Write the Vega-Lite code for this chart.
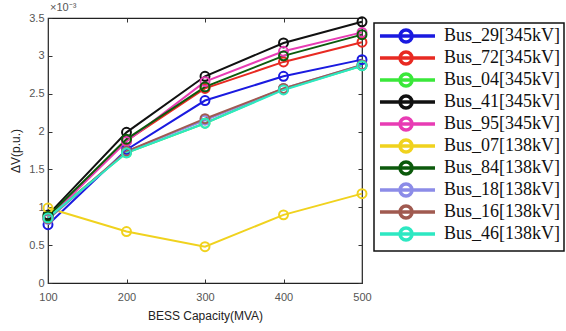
{
  "$schema": "https://vega.github.io/schema/vega-lite/v6.json",
  "autosize": "none",
  "padding": {"left": 48, "top": 18, "right": 204, "bottom": 48},
  "width": 314,
  "height": 265,
  "title": {"text": "×10⁻³", "anchor": "start", "fontSize": 11, "fontWeight": "normal", "color": "#555", "font": "Liberation Sans", "offset": -1, "frame": "group", "dx": 2},
  "config": {
    "view": {"stroke": "#222", "strokeWidth": 1.2},
    "axis": {"domain": false, "grid": false, "labelFlush": false, "labelFont": "Liberation Sans", "labelFontSize": 11, "labelColor": "#555", "tickColor": "#333", "tickSize": -4, "labelPadding": 8, "titleFont": "Liberation Sans", "titleFontSize": 12, "titleFontWeight": "normal", "titleColor": "#222"},
    "legend": {
      "orient": "none", "legendX": 326, "legendY": 5,
      "strokeColor": "#111", "strokeWidth": 1.5, "fillColor": "white", "padding": 4,
      "labelFont": "Liberation Serif", "labelFontSize": 18, "labelColor": "#111",
      "rowPadding": -5, "labelOffset": 48
    }
  },
  "data": {"values": [
    {"cap": 100, "bus": "Bus_29[345kV]", "dv": 0.77},
    {"cap": 200, "bus": "Bus_29[345kV]", "dv": 1.76},
    {"cap": 300, "bus": "Bus_29[345kV]", "dv": 2.41},
    {"cap": 400, "bus": "Bus_29[345kV]", "dv": 2.73},
    {"cap": 500, "bus": "Bus_29[345kV]", "dv": 2.95},
    {"cap": 100, "bus": "Bus_72[345kV]", "dv": 0.86},
    {"cap": 200, "bus": "Bus_72[345kV]", "dv": 1.88},
    {"cap": 300, "bus": "Bus_72[345kV]", "dv": 2.57},
    {"cap": 400, "bus": "Bus_72[345kV]", "dv": 2.92},
    {"cap": 500, "bus": "Bus_72[345kV]", "dv": 3.18},
    {"cap": 100, "bus": "Bus_04[345kV]", "dv": 0.87},
    {"cap": 200, "bus": "Bus_04[345kV]", "dv": 1.72},
    {"cap": 300, "bus": "Bus_04[345kV]", "dv": 2.11},
    {"cap": 400, "bus": "Bus_04[345kV]", "dv": 2.56},
    {"cap": 500, "bus": "Bus_04[345kV]", "dv": 2.87},
    {"cap": 100, "bus": "Bus_41[345kV]", "dv": 0.9},
    {"cap": 200, "bus": "Bus_41[345kV]", "dv": 1.99},
    {"cap": 300, "bus": "Bus_41[345kV]", "dv": 2.73},
    {"cap": 400, "bus": "Bus_41[345kV]", "dv": 3.17},
    {"cap": 500, "bus": "Bus_41[345kV]", "dv": 3.45},
    {"cap": 100, "bus": "Bus_95[345kV]", "dv": 0.85},
    {"cap": 200, "bus": "Bus_95[345kV]", "dv": 1.87},
    {"cap": 300, "bus": "Bus_95[345kV]", "dv": 2.66},
    {"cap": 400, "bus": "Bus_95[345kV]", "dv": 3.06},
    {"cap": 500, "bus": "Bus_95[345kV]", "dv": 3.31},
    {"cap": 100, "bus": "Bus_07[138kV]", "dv": 0.99},
    {"cap": 200, "bus": "Bus_07[138kV]", "dv": 0.68},
    {"cap": 300, "bus": "Bus_07[138kV]", "dv": 0.48},
    {"cap": 400, "bus": "Bus_07[138kV]", "dv": 0.9},
    {"cap": 500, "bus": "Bus_07[138kV]", "dv": 1.18},
    {"cap": 100, "bus": "Bus_84[138kV]", "dv": 0.88},
    {"cap": 200, "bus": "Bus_84[138kV]", "dv": 1.9},
    {"cap": 300, "bus": "Bus_84[138kV]", "dv": 2.59},
    {"cap": 400, "bus": "Bus_84[138kV]", "dv": 3.0},
    {"cap": 500, "bus": "Bus_84[138kV]", "dv": 3.28},
    {"cap": 100, "bus": "Bus_18[138kV]", "dv": 0.84},
    {"cap": 200, "bus": "Bus_18[138kV]", "dv": 1.74},
    {"cap": 300, "bus": "Bus_18[138kV]", "dv": 2.15},
    {"cap": 400, "bus": "Bus_18[138kV]", "dv": 2.57},
    {"cap": 500, "bus": "Bus_18[138kV]", "dv": 2.88},
    {"cap": 100, "bus": "Bus_16[138kV]", "dv": 0.85},
    {"cap": 200, "bus": "Bus_16[138kV]", "dv": 1.74},
    {"cap": 300, "bus": "Bus_16[138kV]", "dv": 2.17},
    {"cap": 400, "bus": "Bus_16[138kV]", "dv": 2.57},
    {"cap": 500, "bus": "Bus_16[138kV]", "dv": 2.88},
    {"cap": 100, "bus": "Bus_46[138kV]", "dv": 0.86},
    {"cap": 200, "bus": "Bus_46[138kV]", "dv": 1.72},
    {"cap": 300, "bus": "Bus_46[138kV]", "dv": 2.11},
    {"cap": 400, "bus": "Bus_46[138kV]", "dv": 2.55},
    {"cap": 500, "bus": "Bus_46[138kV]", "dv": 2.87}
  ]},
  "encoding": {
    "x": {"field": "cap", "type": "quantitative", "scale": {"domain": [100, 500], "nice": false, "zero": false}},
    "y": {"field": "dv", "type": "quantitative", "scale": {"domain": [0, 3.5], "nice": false}},
    "color": {"field": "bus", "type": "nominal", "sort": null,
      "scale": {"domain": ["Bus_29[345kV]", "Bus_72[345kV]", "Bus_04[345kV]", "Bus_41[345kV]", "Bus_95[345kV]", "Bus_07[138kV]", "Bus_84[138kV]", "Bus_18[138kV]", "Bus_16[138kV]", "Bus_46[138kV]"],
        "range": ["#1a1ae0", "#e82a22", "#3ae83a", "#111111", "#e83cb4", "#f0d21e", "#0c5a0c", "#8c8ce8", "#a05a50", "#2de8c2"]},
      "legend": {"title": null, "symbolType": "M-1.17,0L8,0M4.17,0A1,1 0 1,1 2.17,0A1,1 0 1,1 4.17,0", "symbolSize": 144, "symbolStrokeWidth": 3.5, "symbolFillColor": "transparent"}}
  },
  "layer": [
    {
      "mark": {"type": "line", "strokeWidth": 2},
      "encoding": {
        "x": {"field": "cap", "type": "quantitative", "axis": {"values": [100, 200, 300, 400, 500], "title": "BESS Capacity(MVA)", "titlePadding": 8, "labelPadding": 12}},
        "y": {"field": "dv", "type": "quantitative", "axis": {"values": [0, 0.5, 1, 1.5, 2, 2.5, 3, 3.5], "format": "~g", "title": "ΔV(p.u.)", "titlePadding": 6}}
      }
    },
    {
      "mark": {"type": "point", "shape": "circle", "filled": false, "size": 80, "strokeWidth": 2, "opacity": 1},
      "encoding": {
        "x": {"field": "cap", "type": "quantitative", "axis": {"orient": "top", "values": [100, 200, 300, 400, 500], "labels": false, "title": null}},
        "y": {"field": "dv", "type": "quantitative", "axis": {"orient": "right", "values": [0, 0.5, 1, 1.5, 2, 2.5, 3, 3.5], "labels": false, "title": null}}
      }
    }
  ],
  "resolve": {"axis": {"x": "independent", "y": "independent"}}
}
